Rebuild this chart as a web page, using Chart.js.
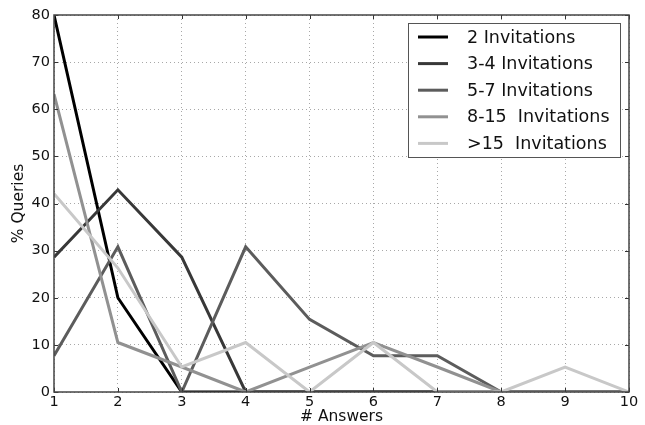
<!DOCTYPE html>
<html>
<head>
<meta charset="utf-8">
<script src="https://cdn.jsdelivr.net/npm/chart.js@4/dist/chart.umd.min.js"></script>
<style>
    html, body { margin: 0; padding: 0; background: #ffffff; }
    #wrap { width: 645px; height: 425px; }
</style>
</head>
<body>
<div id="wrap"><canvas id="grafico" width="645" height="425"></canvas></div>
<script>
// --- DATOS ---
const respuestas = [1, 2, 3, 4, 5, 6, 7, 8, 9, 10];
const etiquetas = ['2 Invitations', '3-4 Invitations', '5-7 Invitations', '8-15  Invitations', '>15  Invitations'];
const inv2 = [80, 20, 0, 0, 0, 0, 0, 0, 0, 0];
const inv3a4 = [28.6, 42.9, 28.6, 0, 0, 0, 0, 0, 0, 0];
const inv5a7 = [7.7, 30.8, 0, 30.8, 15.4, 7.7, 7.7, 0, 0, 0];
const inv8a15 = [63.2, 10.5, 5.3, 0, 5.3, 10.5, 5.3, 0, 0, 0];
const invMas15 = [42.1, 26.3, 5.3, 10.5, 0, 10.5, 0, 0, 5.3, 0];
const ticksY = [0, 10, 20, 30, 40, 50, 60, 70, 80];

const series = [inv2, inv3a4, inv5a7, inv8a15, invMas15];
const colores = ['#000000', '#383838', '#5c5c5c', '#919191', '#c8c8c8'];
const fuente = 'DejaVu Sans';

// --- PLUGIN: marco, marcas de ticks y leyenda dentro del gráfico ---
const marcoYLeyenda = {
    id: 'marcoYLeyenda',
    afterDatasetsDraw(chart) {
        const ctx = chart.ctx;
        const a = chart.chartArea;
        const sx = chart.scales.x;
        const sy = chart.scales.y;
        ctx.save();
        // marcas hacia dentro
        ctx.strokeStyle = '#333333';
        ctx.lineWidth = 1;
        ctx.beginPath();
        respuestas.forEach(v => {
            const px = Math.round(sx.getPixelForValue(v)) + 0.5;
            ctx.moveTo(px, a.bottom); ctx.lineTo(px, a.bottom - 4);
            ctx.moveTo(px, a.top); ctx.lineTo(px, a.top + 4);
        });
        ticksY.forEach(v => {
            const py = Math.round(sy.getPixelForValue(v)) + 0.5;
            ctx.moveTo(a.left, py); ctx.lineTo(a.left + 4, py);
            ctx.moveTo(a.right, py); ctx.lineTo(a.right - 4, py);
        });
        ctx.stroke();
        // marco
        ctx.strokeStyle = '#444444';
        ctx.lineWidth = 1.5;
        ctx.strokeRect(a.left, a.top, a.right - a.left, a.bottom - a.top);

        // leyenda
        const caja = { x: 408, y: 23, w: 212, h: 134 };
        ctx.fillStyle = '#ffffff';
        ctx.fillRect(caja.x, caja.y, caja.w, caja.h);
        ctx.strokeStyle = '#555555';
        ctx.lineWidth = 1;
        ctx.strokeRect(caja.x + 0.5, caja.y + 0.5, caja.w, caja.h);
        ctx.font = '17.5px "' + fuente + '"';
        ctx.textBaseline = 'middle';
        ctx.textAlign = 'left';
        chart.data.datasets.forEach((ds, i) => {
            const yy = 37 + i * 26.6;
            ctx.strokeStyle = ds.borderColor;
            ctx.lineWidth = 3;
            ctx.beginPath();
            ctx.moveTo(418, yy);
            ctx.lineTo(448, yy);
            ctx.stroke();
            ctx.fillStyle = '#111111';
            ctx.fillText(ds.label, 467, yy + 1);
        });
        ctx.restore();
    }
};

// --- GRÁFICO ---
const ctx = document.getElementById('grafico').getContext('2d');
new Chart(ctx, {
    type: 'line',
    data: {
        datasets: series.map((valores, i) => ({
            label: etiquetas[i],
            data: respuestas.map((r, j) => ({ x: r, y: valores[j] })),
            borderColor: colores[i],
            backgroundColor: colores[i],
            borderWidth: 3,
            pointRadius: 0,
            tension: 0,
            fill: false,
            order: series.length - i
        }))
    },
    options: {
        responsive: false,
        animation: false,
        layout: { padding: { top: 15, right: 16, left: 0, bottom: 0 } },
        plugins: {
            legend: { display: false },
            tooltip: { enabled: false }
        },
        scales: {
            x: {
                type: 'linear',
                min: 1,
                max: 10,
                afterFit: (s) => { s.height = 33; },
                afterBuildTicks: (s) => { s.ticks = respuestas.map(v => ({ value: v })); },
                ticks: { padding: 2, color: '#111111', font: { family: fuente, size: 14.5 }, maxRotation: 0 },
                grid: { drawTicks: false, color: '#a8a8a8', lineWidth: 1 },
                border: { display: false, dash: [1, 3] },
                title: { display: true, text: '# Answers', color: '#111111', font: { family: fuente, size: 15.5, lineHeight: 1 }, padding: { top: 0, bottom: 0 } }
            },
            y: {
                min: 0,
                max: 80,
                afterFit: (s) => { s.width = 54; },
                afterBuildTicks: (s) => { s.ticks = ticksY.map(v => ({ value: v })); },
                ticks: { padding: 4, color: '#111111', font: { family: fuente, size: 14.5 } },
                grid: { drawTicks: false, color: '#a8a8a8', lineWidth: 1 },
                border: { display: false, dash: [1, 3] },
                title: { display: true, text: '% Queries', color: '#111111', font: { family: fuente, size: 15.5 }, padding: { top: 10, bottom: 0 } }
            }
        }
    },
    plugins: [marcoYLeyenda]
});
</script>
</body>
</html>
